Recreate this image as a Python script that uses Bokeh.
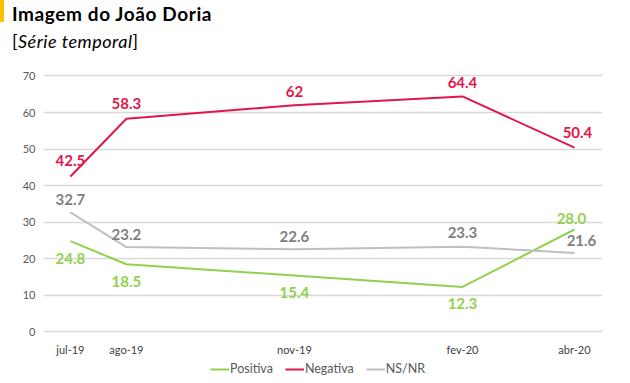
from bokeh.plotting import figure
from bokeh.models import (ColumnDataSource, FixedTicker, Legend, LegendItem, LabelSet, Div)
from bokeh.layouts import column
from bokeh.core.properties import value
from bokeh.embed import file_html
from bokeh.resources import INLINE

# ---- data ----
months = ["jul-19", "ago-19", "nov-19", "fev-20", "abr-20"]
month_index = [0, 1, 4, 7, 9]          # months since jul-19
positiva = [24.8, 18.5, 15.4, 12.3, 28.0]
negativa = [42.5, 58.3, 62.0, 64.4, 50.4]
nsnr = [32.7, 23.2, 22.6, 23.3, 21.6]
pos_txt = ["24.8", "18.5", "15.4", "12.3", "28.0"]
neg_txt = ["42.5", "58.3", "62", "64.4", "50.4"]
ns_txt = ["32.7", "23.2", "22.6", "23.3", "21.6"]
y_ticks = [0, 10, 20, 30, 40, 50, 60, 70]
series_names = ["Positiva", "Negativa", "NS/NR"]

# ---- style ----
FONT = "Lato"
GREEN = "#92d050"
RED = "#e0174a"
GRAY = "#bfbfbf"
GRAY_TXT = "#7f7f7f"
W = 620

title = Div(
    text=(
        '<div style="position:relative;width:600px;height:60px;font-family:Lato;">'
        '<div style="position:absolute;left:0px;top:0px;width:4px;height:22px;background:#ffc000;"></div>'
        '<div style="position:absolute;left:12px;top:0px;font-size:19px;font-weight:bold;letter-spacing:0.6px;color:#000;white-space:nowrap;">Imagem do João Doria</div>'
        '<div style="position:absolute;left:12px;top:29px;font-size:18px;letter-spacing:0.5px;color:#000;white-space:nowrap;">[<i>Série temporal</i>]</div>'
        '</div>'
    ),
    width=W, height=60, margin=0,
)

p = figure(width=W, height=298, output_backend="svg", toolbar_location=None,
           x_range=(-0.48, 9.5), y_range=(-1, 71.5), margin=0,
           min_border_left=43, min_border_right=18, min_border_top=10, min_border_bottom=23)
p.outline_line_color = None

src = ColumnDataSource(dict(x=month_index, pos=positiva, neg=negativa, ns=nsnr,
                            pos_t=pos_txt, neg_t=neg_txt, ns_t=ns_txt))

p.line("x", "pos", source=src, line_color=GREEN, line_width=2)
p.line("x", "neg", source=src, line_color=RED, line_width=2)
p.line("x", "ns", source=src, line_color=GRAY, line_width=2)

def labels(col, tcol, color, xo, yo):
    s = ColumnDataSource(dict(x=month_index, y=src.data[col], t=src.data[tcol], xo=xo, yo=yo))
    ls = LabelSet(x="x", y="y", text="t", source=s, x_offset="xo", y_offset="yo",
                  text_align="center", text_baseline="middle", text_color=color,
                  text_font=value(FONT), text_font_style="bold", text_font_size="15px")
    p.add_layout(ls)

labels("neg", "neg_t", RED, [0, 0, 0, 0, 3], [16, 15, 14, 14, 15])
labels("ns", "ns_t", GRAY_TXT, [0, 0, 0, 0, 7], [13, 13, 13, 14, 12])
labels("pos", "pos_t", GREEN, [0, 0, 0, 0, -3], [-17, -17, -17, -17, 11])

p.xaxis.ticker = FixedTicker(ticks=month_index)
p.xaxis.major_label_overrides = {m: l for m, l in zip(month_index, months)}
p.yaxis.ticker = FixedTicker(ticks=y_ticks)
for ax in (p.xaxis[0], p.yaxis[0]):
    ax.axis_line_color = None
    ax.major_tick_line_color = None
    ax.minor_tick_line_color = None
    ax.major_tick_out = 0
    ax.major_tick_in = 0
    ax.minor_tick_out = 0
    ax.minor_tick_in = 0
    ax.major_label_text_font = FONT
    ax.major_label_text_font_size = "11px"
p.xaxis.major_label_text_color = "#404040"
p.yaxis.major_label_text_color = "#595959"
p.xaxis.major_label_standoff = 7
p.yaxis.major_label_standoff = 8
p.xgrid.grid_line_color = None
p.ygrid.grid_line_color = "#d9d9d9"
p.ygrid.grid_line_width = 1.5

# legend strip (separate small figure so the legend can sit below the axis);
# its series are the same data, out of the strip's visible range (only legend glyphs show)
lg = figure(width=W, height=24, output_backend="svg", toolbar_location=None,
            x_axis_type=None, y_axis_type=None, x_range=(0, 1), y_range=(-2, -1), margin=0,
            min_border_left=0, min_border_right=0, min_border_top=0, min_border_bottom=0)
lg.outline_line_color = None
lg.grid.grid_line_color = None
items = []
for name, col, color in zip(series_names, ["pos", "neg", "ns"], [GREEN, RED, GRAY]):
    r = lg.line("x", col, source=src, line_color=color, line_width=2)
    items.append(LegendItem(label=name, renderers=[r]))
legend = Legend(items=items, orientation="horizontal", location=(167, 6),
                glyph_width=19, glyph_height=12, label_standoff=1, spacing=12,
                padding=0, margin=0, border_line_color=None, background_fill_alpha=0,
                label_text_font=FONT, label_text_font_size="12.5px",
                label_text_color="#595959")
lg.add_layout(legend, "center")

layout = column(title, p, lg, spacing=0)
open("out.html", "w").write(file_html(layout, INLINE))
